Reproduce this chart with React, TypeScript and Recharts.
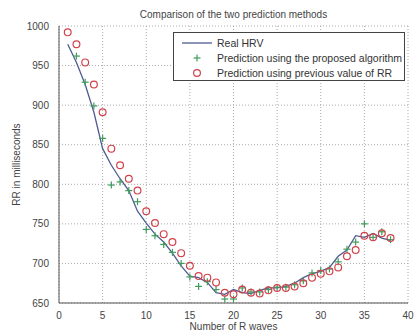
import { LineChart, Line, XAxis, YAxis, CartesianGrid } from 'recharts'

const waves = [1, 2, 3, 4, 5, 6, 7, 8, 9, 10, 11, 12, 13, 14, 15, 16, 17, 18, 19, 20, 21, 22, 23, 24, 25, 26, 27, 28, 29, 30, 31, 32, 33, 34, 35, 36, 37, 38]

const realHrv = [977, 954, 926, 891, 845, 824, 807, 792, 766, 751, 737, 727, 713, 697, 684, 682, 676, 663, 661, 667, 663, 662, 666, 669, 669, 671, 675, 682, 687, 690, 695, 709, 717, 735, 733, 738, 732, 729]

const proposed = [null, 962, 929, 899, 858, 799, 803, 792, 778, 743, 735, 724, 714, 700, 683, 671, 677, 667, 655, 655, 669, 664, 664, 667, 670, 670, 673, 678, 688, 691, 693, 702, 718, 727, 750, 733, 740, 730]

const previous = [992, 977, 954, 926, 891, 845, 824, 807, 792, 766, 751, 737, 727, 713, 697, 684, 682, 676, 663, 661, 667, 663, 662, 666, 669, 669, 671, 675, 682, 687, 690, 695, 709, 717, 735, 733, 738, 732]

const xTicks = [0, 5, 10, 15, 20, 25, 30, 35, 40]
const yTicks = [650, 700, 750, 800, 850, 900, 950, 1000]

const rows = waves.map((w, i) => ({
  x: w,
  real: realHrv[i],
  proposed: proposed[i],
  previous: previous[i],
}))

const LINE = '#4e5c92'
const GREEN = '#3f9c5c'
const RED = '#d2424c'
const TEXT = '#444'
const FONT = '"Liberation Sans", Arial, sans-serif'

function PlusDot(props: any) {
  const { cx, cy, value } = props
  if (value == null || cx == null || cy == null) return null
  return (
    <g stroke={GREEN} strokeWidth={1.2}>
      <line x1={cx - 3.5} y1={cy} x2={cx + 3.5} y2={cy} />
      <line x1={cx} y1={cy - 3.5} x2={cx} y2={cy + 3.5} />
    </g>
  )
}

function CircleDot(props: any) {
  const { cx, cy, value } = props
  if (value == null || cx == null || cy == null) return null
  return <circle cx={cx} cy={cy} r={3.4} fill="none" stroke={RED} strokeWidth={1.2} />
}

export default function App() {
  return (
    <div style={{ position: 'absolute', left: 0, top: 0, width: 417, height: 333, background: '#fff', fontFamily: FONT }}>
      <div style={{ position: 'absolute', left: 59, width: 349, top: 9, textAlign: 'center', fontSize: 10, color: TEXT }}>
        Comparison of the two prediction methods
      </div>
      <LineChart width={417} height={333} data={rows} margin={{ top: 26, right: 9, bottom: 0, left: 0 }}>
        <CartesianGrid stroke="#aaa" strokeDasharray="1 2" />
        <XAxis
          dataKey="x"
          type="number"
          domain={[0, 40]}
          ticks={xTicks}
          height={30}
          tickLine={false}
          axisLine={{ stroke: '#555' }}
          tick={{ fontSize: 10, fill: TEXT, fontFamily: FONT }}
          tickMargin={3}
          label={{ value: 'Number of R waves', position: 'insideBottom', offset: 3, fontSize: 10, fill: TEXT, fontFamily: FONT }}
        />
        <XAxis xAxisId="top" orientation="top" dataKey="x" type="number" domain={[0, 40]} height={0} tick={false} tickLine={false} axisLine={{ stroke: '#555' }} />
        <YAxis
          type="number"
          domain={[650, 1000]}
          ticks={yTicks}
          width={59}
          tickLine={false}
          axisLine={{ stroke: '#555' }}
          tick={{ fontSize: 10, fill: TEXT, fontFamily: FONT }}
          tickMargin={4}
          label={{ value: 'RR in milliseconds', angle: -90, position: 'insideLeft', offset: 16, fontSize: 10, fill: TEXT, fontFamily: FONT, style: { textAnchor: 'middle' } }}
        />
        <YAxis yAxisId="right" orientation="right" domain={[650, 1000]} width={0} tick={false} tickLine={false} axisLine={{ stroke: '#555' }} />
        <Line dataKey="real" stroke={LINE} strokeWidth={1.3} dot={false} isAnimationActive={false} />
        <Line dataKey="proposed" stroke="none" dot={<PlusDot />} activeDot={false} isAnimationActive={false} connectNulls={false} />
        <Line dataKey="previous" stroke="none" dot={<CircleDot />} activeDot={false} isAnimationActive={false} />
      </LineChart>
      <div
        style={{
          position: 'absolute',
          left: 173,
          top: 32,
          width: 232,
          height: 49,
          border: '1px solid #444',
          background: '#fff',
          fontSize: 10.5,
          color: '#333',
          boxSizing: 'border-box',
        }}
      >
        {[
          { label: 'Real HRV', kind: 'line' },
          { label: 'Prediction using the proposed algorithm', kind: 'plus' },
          { label: 'Prediction using previous value of RR', kind: 'circle' },
        ].map((item, i) => (
          <div key={i} style={{ position: 'absolute', left: 6, top: 3 + i * 15, height: 14, display: 'flex', alignItems: 'center' }}>
            <svg width={34} height={14}>
              {item.kind === 'line' && <line x1={2} y1={7} x2={32} y2={7} stroke={LINE} strokeWidth={1.3} />}
              {item.kind === 'plus' && (
                <g stroke={GREEN} strokeWidth={1.2}>
                  <line x1={13.5} y1={7} x2={20.5} y2={7} />
                  <line x1={17} y1={3.5} x2={17} y2={10.5} />
                </g>
              )}
              {item.kind === 'circle' && <circle cx={17} cy={7} r={3.4} fill="none" stroke={RED} strokeWidth={1.2} />}
            </svg>
            <span style={{ marginLeft: 3, whiteSpace: 'nowrap' }}>{item.label}</span>
          </div>
        ))}
      </div>
    </div>
  )
}
